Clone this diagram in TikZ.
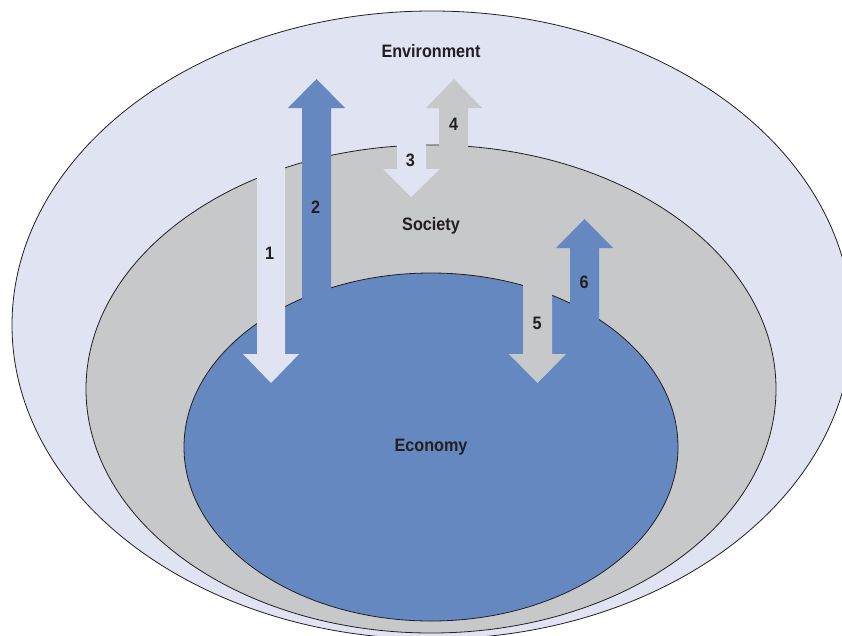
\documentclass[tikz,border=0pt]{standalone}
\usepackage{fontspec}
\setmainfont{Liberation Sans}
\definecolor{envc}{HTML}{E0E3F2}
\definecolor{socc}{HTML}{C7C8CA}
\definecolor{ecoc}{HTML}{6688C1}
\definecolor{inkc}{HTML}{231F20}
\tikzset{
  lbl/.style={font=\bfseries\fontsize{18}{18}\selectfont, text=inkc, xscale=0.9, anchor=base, inner sep=0pt},
  ring/.style={draw=inkc, line width=0.8pt},
  arr/.style={draw=none}
}
\begin{document}
\begin{tikzpicture}[x=1pt,y=-1pt]
\useasboundingbox (0,0) rectangle (842,635);
\clip (0,0) rectangle (842,635);
\fill[white] (0,0) rectangle (842,635);
% ellipses
\draw[ring, fill=envc] (432,325) ellipse [x radius=420pt, y radius=314pt];
\draw[ring, fill=socc] (431,389) ellipse [x radius=345pt, y radius=244pt];
\draw[ring, fill=ecoc] (431,447) ellipse [x radius=247pt, y radius=174pt];
% arrow 1 (environment -> economy)
\fill[arr, envc] (257,160) -- (285,160) -- (285,354) -- (299,354) -- (271,383) -- (243,354) -- (257,354) -- cycle;
% arrow 2 (economy -> environment)
\fill[arr, ecoc] (302,320) -- (331,320) -- (331,108) -- (345,108) -- (316.5,79) -- (288,108) -- (302,108) -- cycle;
% arrow 3 (environment -> society)
\fill[arr, envc] (397,140) -- (426,140) -- (426,169) -- (440,169) -- (411,197) -- (383,169) -- (397,169) -- cycle;
% arrow 4 (society -> environment)
\fill[arr, socc] (439,160) -- (468,160) -- (468,108) -- (482,108) -- (454,79) -- (426,108) -- (439,108) -- cycle;
% arrow 5 (society -> economy)
\fill[arr, socc] (523,270) -- (552,270) -- (552,354) -- (566,354) -- (537.5,383) -- (509,354) -- (523,354) -- cycle;
% arrow 6 (economy -> society)
\fill[arr, ecoc] (570,335) -- (599,335) -- (599,248) -- (613,248) -- (584.5,219) -- (556,248) -- (570,248) -- cycle;
% labels
\node[lbl] (env) at (431,57.3) {Environment};
\node[lbl] (soc) at (431,230.7) {Society};
\node[lbl] (eco) at (431,451.5) {Economy};
\node[lbl] (n1) at (269.5,259.3) {1};
\node[lbl] (n2) at (315.5,213) {2};
\node[lbl] (n3) at (410.3,166.7) {3};
\node[lbl] (n4) at (453.7,130) {4};
\node[lbl] (n5) at (537,329.3) {5};
\node[lbl] (n6) at (584,288.3) {6};
\end{tikzpicture}
\end{document}
